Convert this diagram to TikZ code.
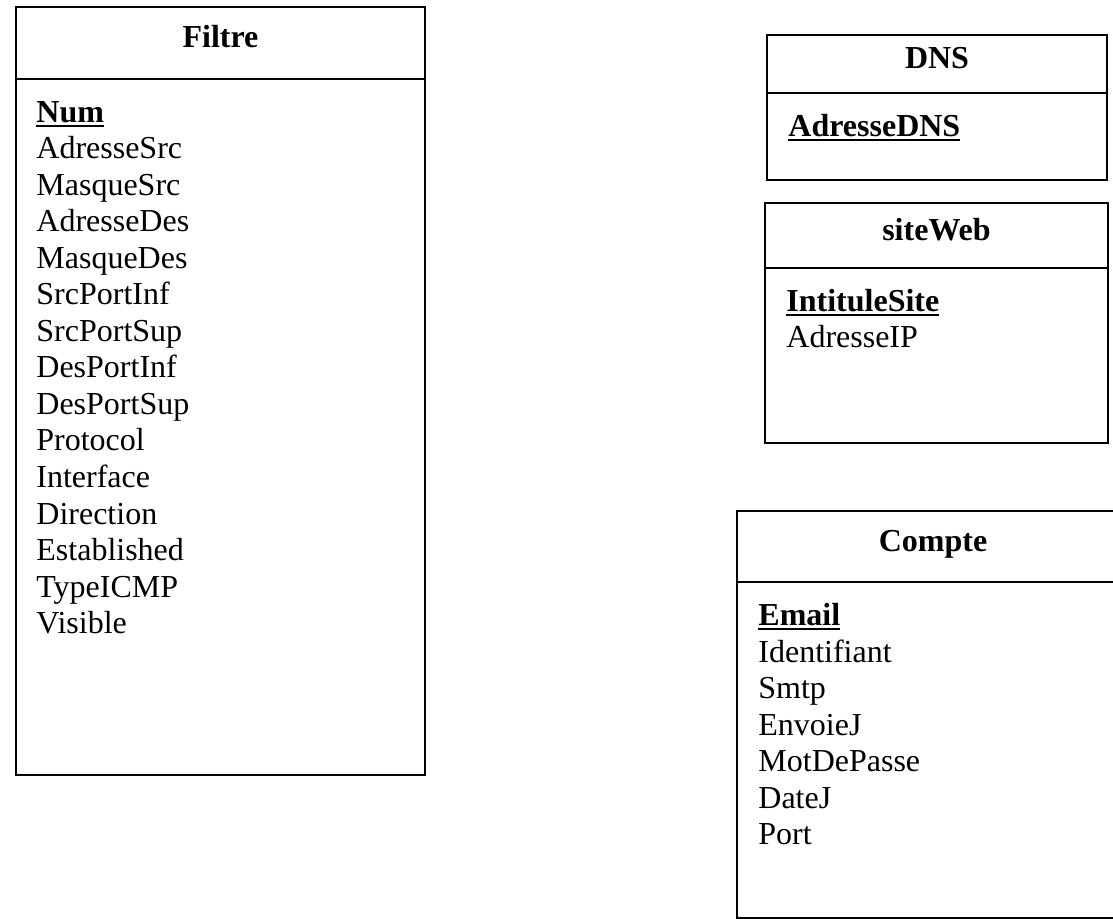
\documentclass[tikz,border=0pt]{standalone}
\usepackage{fontspec}
\setmainfont{Liberation Serif}
\usetikzlibrary{fit}
% bold, underlined primary key
\newcommand{\pkey}[1]{\setbox0\hbox{\textbf{#1}}\rlap{\rule[-2.4pt]{\wd0}{1.1pt}}\box0}

\begin{document}
\begin{tikzpicture}[x=0.5pt, y=-0.5pt, font=\fontsize{16}{18}\selectfont,
  classbox/.style={draw, line width=1.2pt, inner sep=0pt},
  clstitle/.style={font=\fontsize{16}{18}\selectfont\bfseries, text height=0.68em, text depth=0.22em, inner sep=0pt},
  attrline/.style={anchor=base west, inner sep=0pt}]
\useasboundingbox (0,0) rectangle (1113,919);

% Filtre
\node[classbox, fit={(16,7) (425,775)}] (filtre) {};
\node[classbox, fit={(16,7) (425,79)}] (filtre-head) {};
\node[clstitle] (filtre-title) at (filtre-head) {Filtre};
\foreach \a [count=\i from 0] in {\pkey{Num},AdresseSrc,MasqueSrc,AdresseDes,MasqueDes,SrcPortInf,SrcPortSup,DesPortInf,DesPortSup,Protocol,Interface,Direction,Established,TypeICMP,Visible}
  \node[attrline] (filtre-\i) at (36,{122.5+36.5*\i}) {\a};

% DNS
\node[classbox, fit={(767,35) (1107,180)}] (dns) {};
\node[classbox, fit={(767,35) (1107,93)}] (dns-head) {};
\node[clstitle] (dns-title) at (dns-head) {DNS};
\node[attrline] (dns-0) at (788,136.5) {\pkey{AdresseDNS}};

% siteWeb
\node[classbox, fit={(765,203) (1108,443)}] (site) {};
\node[classbox, fit={(765,203) (1108,268)}] (site-head) {};
\node[clstitle] (site-title) at (site-head) {siteWeb};
\foreach \a [count=\i from 0] in {\pkey{IntituleSite},AdresseIP}
  \node[attrline] (site-\i) at (786,{311.5+36.5*\i}) {\a};

% Compte
\node[classbox, fit={(737,511) (1129,918)}] (compte) {};
\node[classbox, fit={(737,511) (1129,582)}] (compte-head) {};
\node[clstitle] (compte-title) at (compte-head) {Compte};
\foreach \a [count=\i from 0] in {\pkey{Email},Identifiant,Smtp,EnvoieJ,MotDePasse,DateJ,Port}
  \node[attrline] (compte-\i) at (758,{625.5+36.5*\i}) {\a};
\end{tikzpicture}
\end{document}
